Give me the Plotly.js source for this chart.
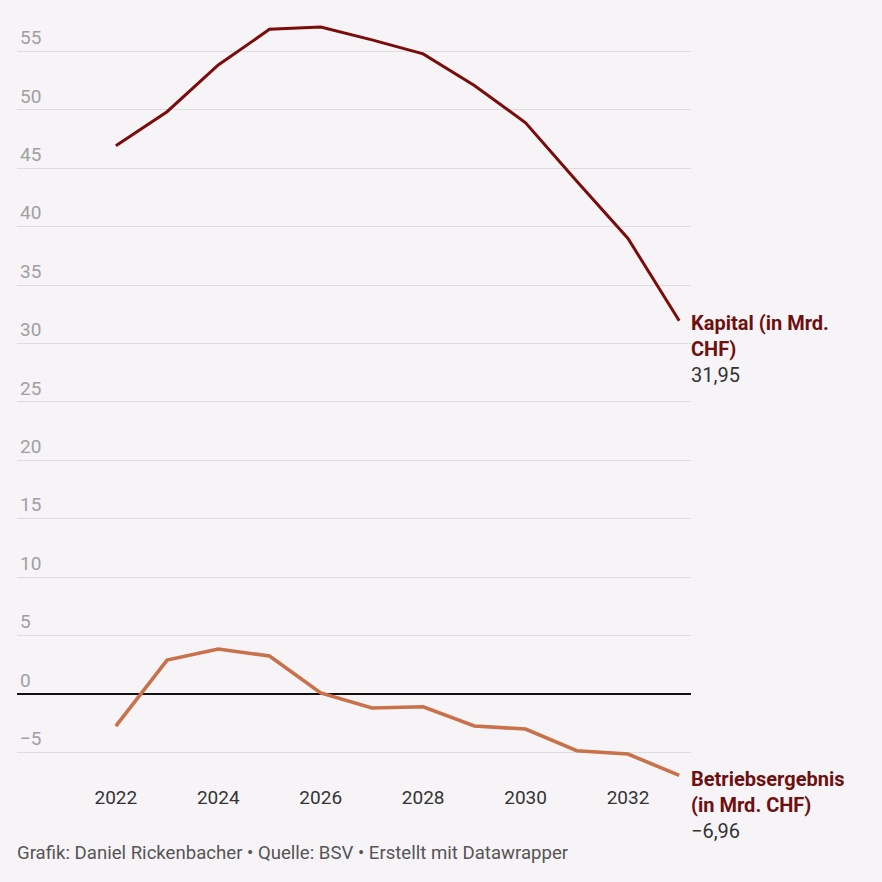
<!DOCTYPE html>
<html>
<head>
<meta charset="utf-8">
<script src="https://cdn.plot.ly/plotly-3.0.1.min.js"></script>
<style>
html,body{margin:0;padding:0;background:#f6f4f6;}
#chart{width:882px;height:882px;}
</style>
</head>
<body>
<div id="chart"></div>
<script>
const years = [2022, 2023, 2024, 2025, 2026, 2027, 2028, 2029, 2030, 2031, 2032, 2033];
const kapital = [46.94, 49.85, 53.85, 56.9, 57.1, 56.0, 54.8, 52.1, 48.9, 43.9, 39.0, 31.95];
const betriebsergebnis = [-2.74, 2.91, 3.85, 3.25, 0.1, -1.2, -1.09, -2.74, -3.0, -4.85, -5.14, -6.96];
const yTicks = [-5, 0, 5, 10, 15, 20, 25, 30, 35, 40, 45, 50, 55];
const yTickLabels = ['\u22125', '0', '5', '10', '15', '20', '25', '30', '35', '40', '45', '50', '55'];
const xTicks = [2022, 2024, 2026, 2028, 2030, 2032];
const kapitalLabel = ['Kapital (in Mrd.', 'CHF)'];
const betriebLabel = ['Betriebsergebnis', '(in Mrd. CHF)'];
const kapitalValueText = '31,95';
const betriebValueText = '\u22126,96';

const traces = [
  {x: years, y: betriebsergebnis, type: 'scatter', mode: 'lines',
   line: {color: '#c9714a', width: 3.6}, hoverinfo: 'skip'},
  {x: years, y: kapital, type: 'scatter', mode: 'lines',
   line: {color: '#7a0c0c', width: 3}, hoverinfo: 'skip'}
];

const labelFont = {family: 'Roboto, sans-serif', size: 20, color: '#6e1010'};
const layout = {
  width: 882, height: 882,
  paper_bgcolor: '#f6f4f6', plot_bgcolor: '#f6f4f6',
  margin: {l: 17, r: 191, t: 20, b: 102},
  showlegend: false,
  font: {family: 'Roboto, sans-serif'},
  xaxis: {
    range: [2020.07, 2033.23], tickvals: xTicks, ticktext: xTicks.map(String),
    showgrid: false, zeroline: false, showline: false, ticks: '',
    tickfont: {family: 'Roboto, sans-serif', size: 19, color: '#333333'},
    ticklabelstandoff: 4, fixedrange: true
  },
  yaxis: {
    range: [-7.36, 57.7], tickvals: yTicks, ticktext: yTickLabels,
    showgrid: true, gridcolor: '#dedcdf', gridwidth: 1,
    zeroline: true, zerolinecolor: '#111111', zerolinewidth: 2,
    showline: false, ticks: '',
    ticklabelposition: 'inside', ticklabelstandoff: 0, ticklabelshift: -14,
    tickfont: {family: 'Roboto, sans-serif', size: 19, color: '#a0a0a0'},
    fixedrange: true
  },
  annotations: [
    {x: 2033, y: kapital[kapital.length - 1], xref: 'x', yref: 'y',
     xanchor: 'left', yanchor: 'top', xshift: 10, yshift: 12, align: 'left',
     showarrow: false,
     text: '<b>' + kapitalLabel.join('<br>') + '</b><br><span style="color:#333333">' + kapitalValueText + '</span>',
     font: labelFont},
    {x: 2033, y: betriebsergebnis[betriebsergebnis.length - 1], xref: 'x', yref: 'y',
     xanchor: 'left', yanchor: 'top', xshift: 10, yshift: 10, align: 'left',
     showarrow: false,
     text: '<b>' + betriebLabel.join('<br>') + '</b><br><span style="color:#333333">' + betriebValueText + '</span>',
     font: labelFont},
    {x: 0, y: 0, xref: 'paper', yref: 'paper', xanchor: 'left', yanchor: 'top',
     xshift: -2, yshift: -60, showarrow: false, align: 'left',
     text: 'Grafik: Daniel Rickenbacher \u2022 Quelle: BSV \u2022 Erstellt mit Datawrapper',
     font: {family: 'Roboto, sans-serif', size: 18.6, color: '#555555'}}
  ]
};

Plotly.newPlot('chart', traces, layout, {displayModeBar: false, staticPlot: true});
</script>
</body>
</html>
